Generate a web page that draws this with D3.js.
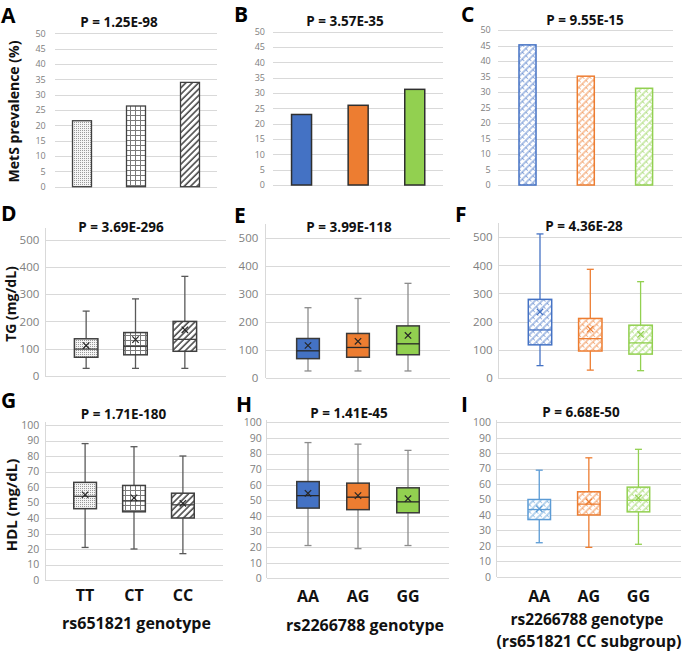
<!DOCTYPE html>
<html><head><meta charset="utf-8">
<script src="https://cdn.jsdelivr.net/npm/d3@7"></script>
<style>
html,body{margin:0;padding:0;background:#fff;}
text{font-family:"Open Sans","Noto Sans",sans-serif;}
</style></head>
<body>
<script>
// ---------------- DATA ----------------
const genoA = ["TT", "CT", "CC"];          // rs651821
const genoB = ["AA", "AG", "GG"];          // rs2266788
const metsA = [21.5, 26.3, 34.0];
const metsB = [23.0, 26.0, 31.2];
const metsC = [45.2, 35.1, 31.2];
// box values: [min, q1, median, q3, max, mean]
const tgD = [[27, 68, 98, 136, 238, 111], [27, 77, 108, 159, 283, 133], [27, 90, 134, 200, 366, 169]];
const tgE = [[24, 68, 96, 140, 250, 115], [24, 73, 108, 158, 283, 130], [24, 82, 121, 185, 337, 151]];
const tgF = [[43, 117, 170, 279, 512, 234], [27, 95, 139, 211, 386, 173], [25, 84, 124, 187, 342, 154]];
const hdlG = [[21, 46, 54, 63, 88, 55], [20, 44, 51, 61, 86, 53], [17, 40, 48.5, 56, 80, 49.5]];
const hdlH = [[21, 45, 53, 62, 87, 54.5], [19, 44, 52, 61, 86, 53], [21, 42, 49, 58, 82, 51]];
const hdlI = [[22, 37, 43.5, 50, 69, 44], [19, 40, 47, 55, 77, 48.5], [21, 42, 49.5, 58, 82.5, 51]];
const pTitles = ["P = 1.25E-98", "P = 3.57E-35", "P = 9.55E-15", "P = 3.69E-296", "P = 3.99E-118", "P = 4.36E-28", "P = 1.71E-180", "P = 1.41E-45", "P = 6.68E-50"];
const panelLetters = ["A", "B", "C", "D", "E", "F", "G", "H", "I"];
const ticksMets = d3.range(0, 51, 5);
const ticksTG = d3.range(0, 501, 100);
const ticksHDL = d3.range(0, 101, 10);

// ---------------- STYLE ----------------
const BLUE = "#4472C4", ORANGE = "#ED7D31", GREEN = "#92D050", SKY = "#5B9BD5";
const GRID = "#d9d9d9", TICK = "#808080";

const svg = d3.select("body").append("svg").attr("width", 685).attr("height", 653);
const defs = svg.append("defs");

// patterns
let p = defs.append("pattern").attr("id", "dots").attr("patternUnits", "userSpaceOnUse").attr("width", 2).attr("height", 2);
p.append("rect").attr("width", 2).attr("height", 2).attr("fill", "#f4f4f4");
p.append("rect").attr("width", 1).attr("height", 1).attr("fill", "#9a9a9a");
p = defs.append("pattern").attr("id", "grid").attr("patternUnits", "userSpaceOnUse").attr("width", 5).attr("height", 5);
p.append("rect").attr("width", 5).attr("height", 5).attr("fill", "#fff");
p.append("path").attr("d", "M0,0.5H5M0.5,0V5").attr("stroke", "#7a7a7a").attr("stroke-width", 1);
p = defs.append("pattern").attr("id", "diag").attr("patternUnits", "userSpaceOnUse").attr("width", 4.5).attr("height", 4.5).attr("patternTransform", "rotate(45)");
p.append("rect").attr("width", 4.5).attr("height", 4.5).attr("fill", "#fff");
p.append("path").attr("d", "M1,0V4.5").attr("stroke", "#3f3f3f").attr("stroke-width", 1.5);
function hatch(id, col) {
  const q = defs.append("pattern").attr("id", id).attr("patternUnits", "userSpaceOnUse").attr("width", 5).attr("height", 5).attr("patternTransform", "rotate(45)");
  q.append("rect").attr("width", 5).attr("height", 5).attr("fill", "#fff");
  q.append("path").attr("d", "M1,0V5").attr("stroke", col).attr("stroke-width", 1).attr("opacity", 0.85);
  q.append("path").attr("d", "M1,2.5H4").attr("stroke", col).attr("stroke-width", 0.9).attr("opacity", 0.6);
}
hatch("hB", BLUE); hatch("hO", ORANGE); hatch("hG", GREEN); hatch("hS", SKY);

function bandFor(cats, x0, x1, step, w) {
  const pi = 1 - w / step;
  const po = ((x1 - x0) / step - cats.length + pi) / 2;
  return d3.scaleBand().domain(cats).range([x0, x1]).paddingInner(pi).paddingOuter(po);
}

function axisPanel(c, ticks) {
  const y = d3.scaleLinear().domain([0, ticks[ticks.length - 1]]).range([c.y0, c.y1]);
  const ax = d3.axisLeft(y).tickValues(ticks).tickSize(-(c.x1 - c.x0)).tickPadding(c.pad).tickFormat(d3.format("d"));
  const g = svg.append("g").attr("transform", `translate(${c.x0},0)`).call(ax);
  g.select(".domain").remove();
  g.selectAll(".tick line").attr("stroke", GRID).attr("shape-rendering", "crispEdges");
  g.selectAll(".tick text").attr("fill", TICK).attr("font-size", c.fs).attr("font-family", "'Open Sans',sans-serif");
  if (c.vTop !== undefined) {
    svg.append("line").attr("x1", c.x0).attr("x2", c.x0).attr("y1", c.vTop).attr("y2", c.y0)
      .attr("stroke", GRID).attr("shape-rendering", "crispEdges");
  }
  return y;
}

function titleAndLetter(i, c) {
  svg.append("text").attr("x", c.tx).attr("y", c.ty).attr("text-anchor", "middle")
    .attr("font-size", 13.5).attr("font-weight", 700).attr("fill", "#111").attr("xml:space", "preserve").text(pTitles[i]);
  svg.append("text").attr("x", c.lx).attr("y", c.ly).attr("font-size", 21).attr("font-weight", 700).attr("fill", "#000").text(panelLetters[i]);
}

function barPanel(i, c, cats, vals, fills, strokes, sw) {
  const y = axisPanel(c, ticksMets);
  const x = bandFor(cats, c.x0, c.x1, c.step, c.w);
  svg.append("g").selectAll("rect").data(vals).join("rect")
    .attr("x", (d, k) => x(cats[k])).attr("width", x.bandwidth())
    .attr("y", d => y(d)).attr("height", d => y(0) - y(d))
    .attr("fill", (d, k) => fills[k]).attr("stroke", (d, k) => strokes[k]).attr("stroke-width", sw);
  titleAndLetter(i, c);
}

function boxPanel(i, c, cats, data, ticks, st) {
  const y = axisPanel(c, ticks);
  const x = bandFor(cats, c.x0, c.x1, c.step, c.w);
  const g = svg.append("g");
  data.forEach((d, k) => {
    const [mn, q1, md, q3, mx, mean] = d;
    const bx = x(cats[k]), bw = x.bandwidth(), cx = bx + bw / 2;
    const wc = st.whisker[k], bc = st.box[k], mc = st.med[k], xc = st.mean[k];
    const cap = 3.5;
    g.append("line").attr("x1", cx).attr("x2", cx).attr("y1", y(mx)).attr("y2", y(q3)).attr("stroke", wc).attr("stroke-width", 1.3);
    g.append("line").attr("x1", cx).attr("x2", cx).attr("y1", y(q1)).attr("y2", y(mn)).attr("stroke", wc).attr("stroke-width", 1.3);
    g.append("line").attr("x1", cx - cap).attr("x2", cx + cap).attr("y1", y(mx)).attr("y2", y(mx)).attr("stroke", wc).attr("stroke-width", 1.3);
    g.append("line").attr("x1", cx - cap).attr("x2", cx + cap).attr("y1", y(mn)).attr("y2", y(mn)).attr("stroke", wc).attr("stroke-width", 1.3);
    g.append("rect").attr("x", bx).attr("width", bw).attr("y", y(q3)).attr("height", y(q1) - y(q3))
      .attr("fill", st.fill[k]).attr("stroke", bc).attr("stroke-width", 1.5);
    g.append("line").attr("x1", bx).attr("x2", bx + bw).attr("y1", y(md)).attr("y2", y(md)).attr("stroke", mc).attr("stroke-width", 1.3);
    const my = y(mean), m = 3.2;
    g.append("path").attr("d", `M${cx - m},${my - m}L${cx + m},${my + m}M${cx - m},${my + m}L${cx + m},${my - m}`)
      .attr("stroke", xc).attr("stroke-width", 1.2);
  });
  titleAndLetter(i, c);
}

// ---------------- ROW 1 ----------------
barPanel(0, {x0: 55, x1: 217, y0: 186.7, y1: 33.3, pad: 9.3, fs: 9, step: 54, w: 19, tx: 119, ty: 26.5, lx: 1, ly: 23},
  genoA, metsA, ["url(#dots)", "url(#grid)", "url(#diag)"], ["#404040", "#404040", "#404040"], 1.3);
barPanel(1, {x0: 273.3, x1: 443, y0: 185, y1: 31.7, pad: 8.3, fs: 9, step: 56.6, w: 20, tx: 345, ty: 26, lx: 234, ly: 22},
  genoB, metsB, [BLUE, ORANGE, GREEN], ["#2f2f2f", "#2f2f2f", "#2f2f2f"], 1.5);
barPanel(2, {x0: 498.3, x1: 673.3, y0: 185, y1: 30, pad: 7.6, fs: 9, step: 58.3, w: 17, tx: 585, ty: 25, lx: 461, ly: 22},
  genoB, metsC, ["url(#hB)", "url(#hO)", "url(#hG)"], [BLUE, ORANGE, GREEN], 1.5);

// ---------------- ROW 2 ----------------
const stPat = {fill: ["url(#dots)", "url(#grid)", "url(#diag)"], box: ["#404040", "#404040", "#404040"], med: ["#404040", "#404040", "#404040"], whisker: ["#595959", "#595959", "#595959"], mean: ["#262626", "#262626", "#262626"]};
const stSolid = {fill: [BLUE, ORANGE, GREEN], box: ["#3a3a3a", "#3a3a3a", "#3a3a3a"], med: ["#262626", "#262626", "#262626"], whisker: ["#8c8c8c", "#8c8c8c", "#8c8c8c"], mean: ["#262626", "#262626", "#262626"]};
const stHatchF = {fill: ["url(#hB)", "url(#hO)", "url(#hG)"], box: [BLUE, ORANGE, GREEN], med: [BLUE, ORANGE, GREEN], whisker: [BLUE, ORANGE, GREEN], mean: [BLUE, ORANGE, GREEN]};
const stHatchI = {fill: ["url(#hS)", "url(#hO)", "url(#hG)"], box: [SKY, ORANGE, GREEN], med: [SKY, ORANGE, GREEN], whisker: [SKY, ORANGE, GREEN], mean: [SKY, ORANGE, GREEN]};

boxPanel(3, {x0: 45, x1: 226, y0: 375.7, y1: 240, pad: 5.7, fs: 11.5, step: 49.35, w: 23.5, vTop: 228, tx: 121, ty: 231.5, lx: 1, ly: 221}, genoA, tgD, ticksTG, stPat);
boxPanel(4, {x0: 265.7, x1: 450.3, y0: 377.7, y1: 237.7, pad: 7.4, fs: 11.5, step: 50, w: 22.7, vTop: 224, tx: 349, ty: 231.5, lx: 234, ly: 223}, genoB, tgE, ticksTG, stSolid);
boxPanel(5, {x0: 498.3, x1: 682.3, y0: 377.7, y1: 237.3, pad: 5.6, fs: 11.5, step: 50.3, w: 23.4, vTop: 223, tx: 584, ty: 231, lx: 455, ly: 221.5}, genoB, tgF, ticksTG, stHatchF);

// ---------------- ROW 3 ----------------
boxPanel(6, {x0: 45, x1: 223, y0: 580, y1: 425, pad: 5.7, fs: 10.5, step: 48.9, w: 22.7, vTop: 422, tx: 123.5, ty: 419, lx: 1, ly: 408}, genoA, hdlG, ticksHDL, stPat);
boxPanel(7, {x0: 266.7, x1: 449.3, y0: 578.3, y1: 422.3, pad: 5, fs: 10.5, step: 50, w: 22.5, vTop: 420, tx: 349, ty: 418, lx: 236, ly: 411.5}, genoB, hdlH, ticksHDL, stSolid);
boxPanel(8, {x0: 496.7, x1: 681, y0: 576.7, y1: 422.3, pad: 5.7, fs: 10.5, step: 49.6, w: 22.5, vTop: 420, tx: 581, ty: 417, lx: 461, ly: 411.5}, genoB, hdlI, ticksHDL, stHatchI);

// ---------------- AXIS LABELS ----------------
function catLabels(cats, x0, x1, step, w, yb) {
  const x = bandFor(cats, x0, x1, step, w);
  svg.append("g").selectAll("text").data(cats).join("text")
    .attr("x", d => x(d) + x.bandwidth() / 2).attr("y", yb).attr("text-anchor", "middle")
    .attr("font-size", 16).attr("font-weight", 700).attr("fill", "#111").text(d => d);
}
catLabels(genoA, 45, 223, 48.9, 22.7, 601);
catLabels(genoB, 266.7, 449.3, 50, 22.5, 601.5);
catLabels(genoB, 496.7, 681, 49.6, 22.5, 601.5);

function label(txt, x, y, fs, rot) {
  const t = svg.append("text").attr("text-anchor", "middle").attr("font-size", fs).attr("font-weight", 700).attr("fill", "#111").text(txt);
  if (rot) t.attr("transform", `translate(${x},${y}) rotate(-90)`); else t.attr("x", x).attr("y", y);
}
label("rs651821 genotype", 136.5, 628.5, 16, false);
label("rs2266788 genotype", 365, 630.5, 16, false);
label("rs2266788 genotype", 587, 624.5, 15.5, false);
label("(rs651821 CC subgroup)", 589, 647, 16, false);
label("MetS prevalence (%)", 19, 111.5, 14, true);
label("TG (mg/dL)", 15.5, 304, 14, true);
label("HDL (mg/dL)", 16.5, 505, 15, true);
</script>
</body></html>
